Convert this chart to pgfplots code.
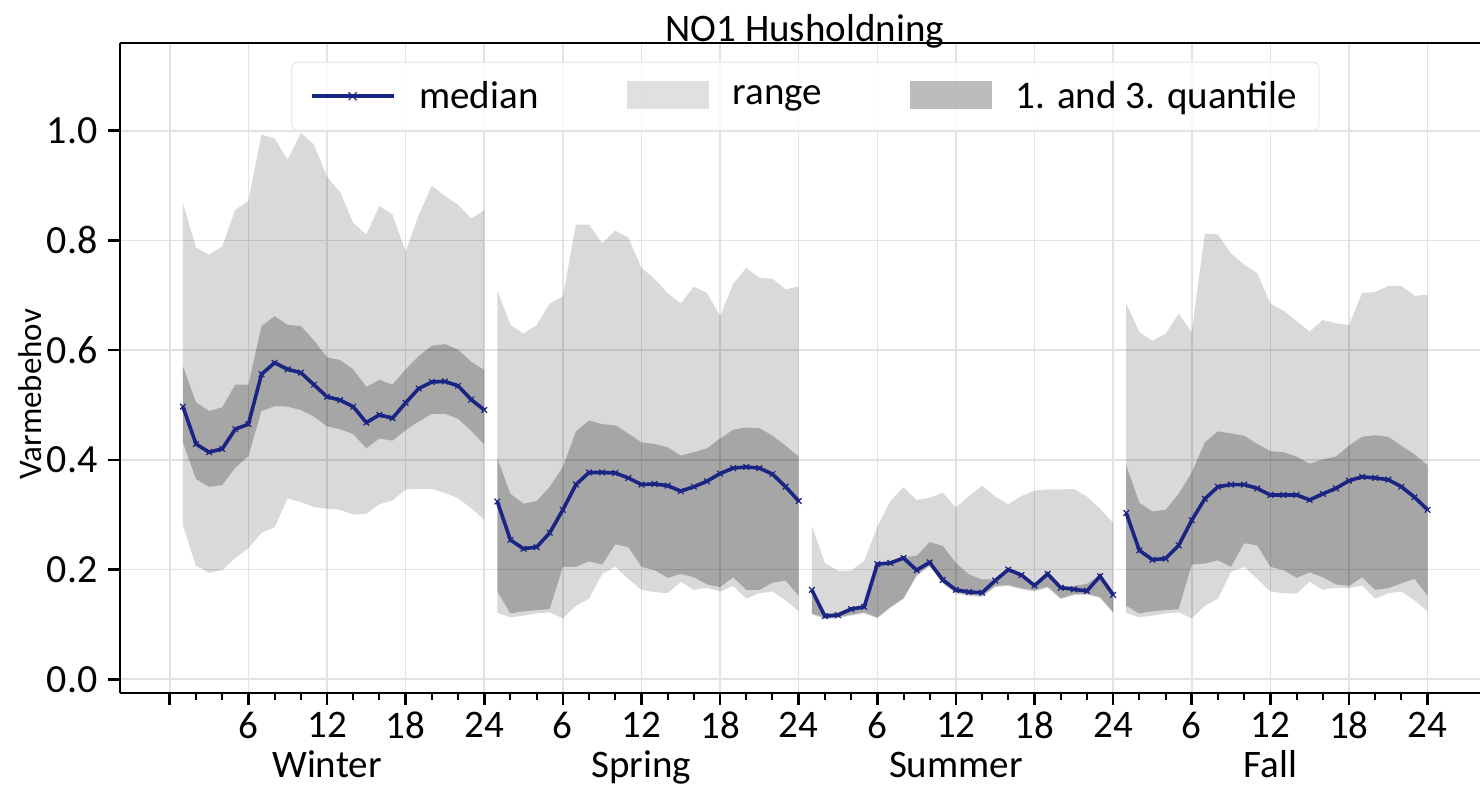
\documentclass[border=0pt]{standalone}
\usepackage{fontspec}
\setmainfont{Carlito}
\usepackage{pgfplots}
\pgfplotsset{compat=1.18}
\usepackage{pgfplotstable}
\usepgfplotslibrary{fillbetween}

\definecolor{medcol}{RGB}{26,36,130}
\definecolor{gridcol}{RGB}{226,226,226}

\pgfplotstableread{
x min q1 med q3 max
1 0.281 0.432 0.497 0.571 0.868
2 0.207 0.365 0.429 0.505 0.787
3 0.194 0.351 0.414 0.489 0.774
4 0.199 0.354 0.420 0.496 0.789
5 0.221 0.386 0.456 0.537 0.856
6 0.239 0.407 0.465 0.537 0.872
7 0.267 0.489 0.556 0.644 0.993
8 0.277 0.498 0.577 0.662 0.986
9 0.330 0.497 0.565 0.646 0.947
10 0.323 0.491 0.559 0.644 0.996
11 0.314 0.479 0.537 0.618 0.975
12 0.311 0.461 0.515 0.587 0.916
13 0.309 0.456 0.509 0.582 0.888
14 0.300 0.447 0.497 0.565 0.832
15 0.302 0.421 0.468 0.533 0.811
16 0.319 0.439 0.482 0.546 0.863
17 0.326 0.435 0.476 0.537 0.847
18 0.346 0.454 0.504 0.565 0.780
19 0.347 0.470 0.530 0.589 0.846
20 0.347 0.484 0.542 0.608 0.900
21 0.340 0.484 0.543 0.611 0.881
22 0.330 0.475 0.535 0.601 0.865
23 0.312 0.453 0.510 0.579 0.840
24 0.291 0.428 0.491 0.564 0.855
}\winter

\pgfplotstableread{
x min q1 med q3 max
25 0.121 0.160 0.324 0.403 0.708
26 0.113 0.120 0.254 0.338 0.646
27 0.116 0.124 0.238 0.320 0.630
28 0.120 0.126 0.241 0.325 0.646
29 0.122 0.128 0.267 0.351 0.685
30 0.111 0.205 0.309 0.387 0.698
31 0.134 0.205 0.355 0.452 0.829
32 0.147 0.215 0.377 0.472 0.829
33 0.192 0.209 0.377 0.465 0.795
34 0.205 0.246 0.376 0.463 0.818
35 0.183 0.241 0.367 0.448 0.805
36 0.163 0.205 0.355 0.432 0.750
37 0.159 0.199 0.356 0.429 0.730
38 0.157 0.185 0.353 0.423 0.704
39 0.178 0.192 0.343 0.408 0.685
40 0.163 0.186 0.351 0.414 0.716
41 0.167 0.173 0.361 0.421 0.704
42 0.160 0.168 0.375 0.439 0.662
43 0.170 0.186 0.385 0.455 0.721
44 0.147 0.163 0.387 0.459 0.750
45 0.157 0.163 0.385 0.458 0.732
46 0.160 0.176 0.374 0.444 0.730
47 0.144 0.180 0.351 0.426 0.711
48 0.124 0.152 0.325 0.406 0.716
}\spring

\pgfplotstableread{
x min q1 med q3 max
49 0.118 0.120 0.163 0.166 0.280
50 0.110 0.112 0.115 0.120 0.212
51 0.111 0.113 0.117 0.122 0.198
52 0.116 0.118 0.128 0.131 0.198
53 0.120 0.122 0.132 0.135 0.216
54 0.111 0.113 0.210 0.212 0.278
55 0.130 0.132 0.212 0.214 0.325
56 0.146 0.148 0.221 0.223 0.350
57 0.188 0.190 0.199 0.225 0.327
58 0.206 0.208 0.213 0.250 0.331
59 0.174 0.176 0.181 0.243 0.340
60 0.156 0.158 0.163 0.212 0.313
61 0.152 0.154 0.159 0.191 0.334
62 0.150 0.152 0.158 0.182 0.353
63 0.168 0.170 0.180 0.182 0.333
64 0.170 0.172 0.200 0.202 0.319
65 0.164 0.166 0.190 0.192 0.334
66 0.160 0.162 0.171 0.173 0.344
67 0.167 0.169 0.192 0.194 0.346
68 0.146 0.148 0.167 0.170 0.346
69 0.153 0.155 0.164 0.170 0.347
70 0.154 0.156 0.161 0.174 0.333
71 0.148 0.150 0.188 0.190 0.311
72 0.121 0.123 0.154 0.156 0.285
}\summer

\pgfplotstableread{
x min q1 med q3 max
73 0.121 0.134 0.303 0.390 0.685
74 0.113 0.120 0.235 0.322 0.633
75 0.116 0.124 0.218 0.306 0.617
76 0.120 0.126 0.220 0.309 0.630
77 0.122 0.128 0.244 0.338 0.666
78 0.111 0.209 0.290 0.377 0.633
79 0.134 0.211 0.329 0.432 0.813
80 0.147 0.217 0.351 0.452 0.811
81 0.196 0.205 0.355 0.448 0.776
82 0.205 0.248 0.355 0.444 0.756
83 0.183 0.244 0.348 0.429 0.740
84 0.160 0.205 0.336 0.416 0.685
85 0.157 0.199 0.336 0.414 0.672
86 0.156 0.185 0.336 0.406 0.653
87 0.178 0.195 0.327 0.393 0.634
88 0.163 0.186 0.338 0.401 0.655
89 0.167 0.173 0.348 0.406 0.649
90 0.166 0.170 0.362 0.426 0.646
91 0.171 0.186 0.369 0.442 0.704
92 0.147 0.163 0.367 0.445 0.706
93 0.157 0.166 0.364 0.442 0.717
94 0.160 0.175 0.351 0.426 0.717
95 0.144 0.183 0.332 0.410 0.699
96 0.124 0.152 0.309 0.390 0.701
}\fall

\pgfplotsset{
  medleg/.style={legend image code/.code={%
    \draw[medcol, line width=1.8pt, sharp corners] (0pt,0pt) -- (41pt,0pt);
    \draw[medcol, line width=0.6pt, sharp corners] (18.5pt,-2pt) -- (22.5pt,2pt) (18.5pt,2pt) -- (22.5pt,-2pt);}},
  rangeleg/.style={legend image code/.code={\path[fill=black!15, draw=none, sharp corners] (0pt,-6.5pt) rectangle (41pt,7.5pt);}},
  quantleg/.style={legend image code/.code={\path[fill=black!33, draw=none, sharp corners] (0pt,-6.5pt) rectangle (41pt,7.5pt);}},
}

\newcommand{\season}[2]{%
  \addplot[draw=none, forget plot, name path=max#2] table[x=x,y=max]{#1};
  \addplot[draw=none, forget plot, name path=min#2] table[x=x,y=min]{#1};
  \addplot[fill=black, fill opacity=0.15, draw=none, forget plot] fill between[of=max#2 and min#2];
  \addplot[draw=none, forget plot, name path=qa#2] table[x=x,y=q3]{#1};
  \addplot[draw=none, forget plot, name path=qb#2] table[x=x,y=q1]{#1};
  \addplot[fill=black, fill opacity=0.235, draw=none, forget plot] fill between[of=qa#2 and qb#2];
  \addplot[medcol, line width=1.8pt, mark=x, mark size=2pt, mark options={line width=0.6pt}, forget plot] table[x=x,y=med]{#1};
}

\begin{document}
\begin{tikzpicture}
\begin{axis}[
  scale only axis, width=680pt, height=325pt,
  xmin=-3.8, xmax=100, ymin=-0.025, ymax=1.16,
  axis x line=box, axis y line=left,
  axis line style={line width=1.4pt, black},
  every outer x axis line/.append style={-, line width=1.4pt, black},
  every outer y axis line/.append style={-, line width=1.4pt, black},
  every inner x axis line/.append style={-, line width=1.4pt, black},
  every inner y axis line/.append style={-, line width=1.4pt, black},
  tick pos=left, tick align=outside,
  xtick={0,6,...,96},
  xticklabels={,6,12\\Winter,18,24,6,12\\Spring,18,24,6,12\\Summer,18,24,6,12\\Fall,18,24},
  minor x tick num=2,
  major tick length=6pt, minor tick length=3.5pt,
  major tick style={line width=1.3pt, black},
  minor tick style={line width=1pt, black},
  xticklabel style={font=\fontsize{19.5}{20}\selectfont, align=center},
  ytick={0,0.2,0.4,0.6,0.8,1.0},
  yticklabel style={font=\fontsize{20}{21}\selectfont, inner xsep=5pt,
    /pgf/number format/.cd, fixed, fixed zerofill, precision=1, assume math mode=true},
  grid=major,
  major grid style={gridcol, line width=0.8pt},
  ylabel={Varmebehov},
  every axis y label/.style={at={(axis description cs:-0.066,0.46)}, anchor=center, rotate=90,
    font=\fontsize{16.5}{19}\selectfont},
  title={\fontsize{19.5}{22}\selectfont NO1 Husholdning},
  title style={at={(axis description cs:0.5035,1)}, anchor=base, yshift=-5.5pt},
  legend columns=3,
  legend cell align=left,
  legend style={at={(axis description cs:0.504,0.971)}, anchor=north,
    draw=black!12, rounded corners=3pt, fill=white, fill opacity=0.8, text opacity=1,
    font=\fontsize{19.5}{22}\selectfont, inner xsep=9pt, inner ysep=7.5pt,
    /tikz/every even column/.append style={column sep=42pt},
    /tikz/every odd column/.append style={column sep=10pt}},
]
\season{\winter}{W}
\season{\spring}{S}
\season{\summer}{U}
\season{\fall}{F}

\addlegendimage{medleg}
\addlegendentry{median}
\addlegendimage{rangeleg}
\addlegendentry{range}
\addlegendimage{quantleg}
\addlegendentry{1. and 3. quantile}

\coordinate (SW) at (rel axis cs:0,0);
\end{axis}
\pgfresetboundingbox
\path[use as bounding box] (SW) ++(-60pt,-46.5pt) rectangle ++(740pt,393pt);
\end{tikzpicture}
\end{document}
